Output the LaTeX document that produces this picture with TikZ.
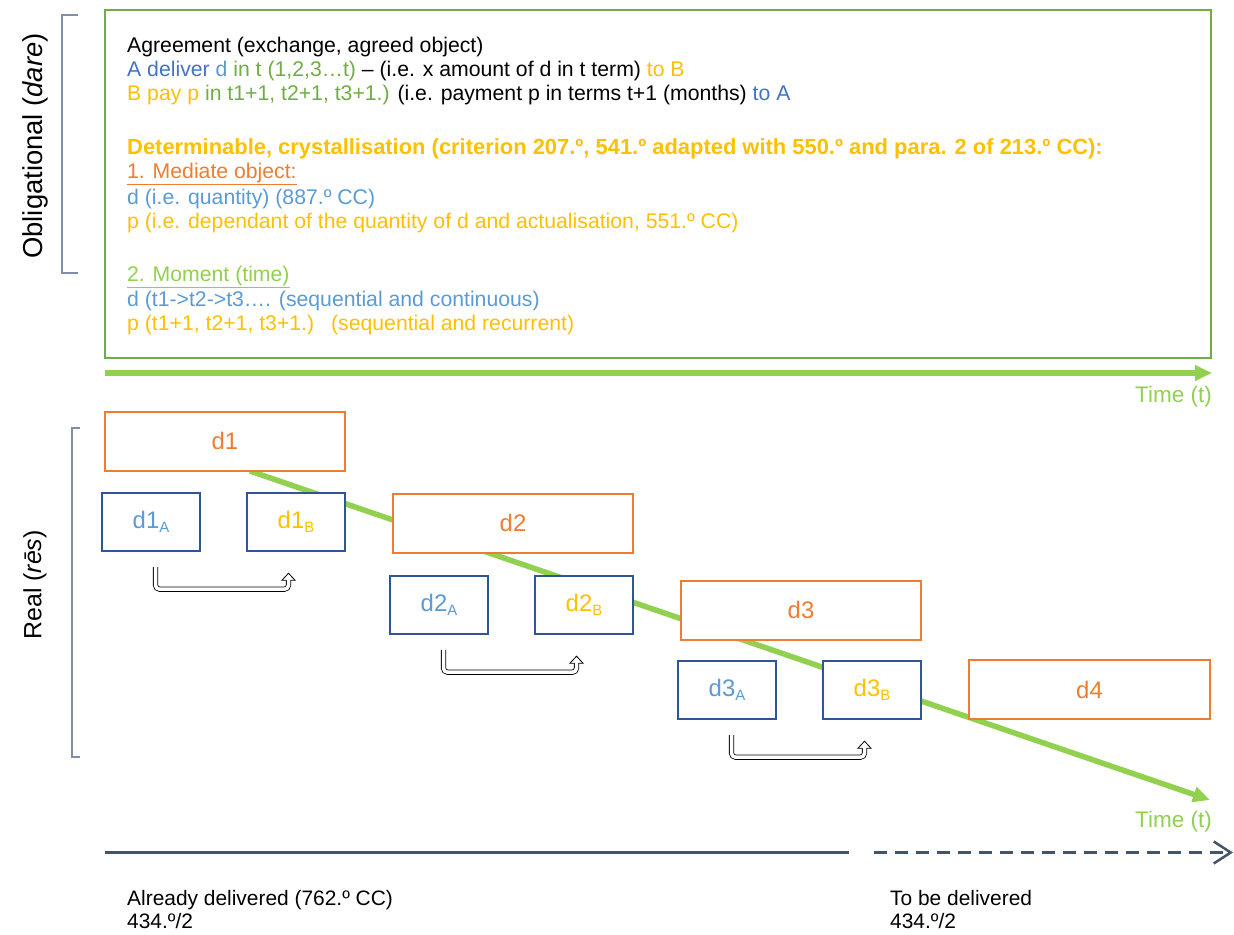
\documentclass[tikz,border=0pt]{standalone}
\usepackage{fontspec}
\setmainfont{Liberation Sans}
\usetikzlibrary{arrows.meta,calc}

\definecolor{boxgreen}{HTML}{70AD47}
\definecolor{timegreen}{HTML}{92D050}
\definecolor{partyblue}{HTML}{4472C4}
\definecolor{lightblue}{HTML}{5B9BD5}
\definecolor{gold}{HTML}{FFC000}
\definecolor{orng}{HTML}{ED7D31}
\definecolor{darkblue}{HTML}{2F5597}
\definecolor{slate}{HTML}{44546A}
\definecolor{brack}{HTML}{7F8FA9}

\newcommand{\fsz}[1]{\fontsize{#1}{#1}\selectfont}
\newcommand{\subl}[1]{\raisebox{-0.3ex}{\fsz{15}#1}}

\tikzset{
  txt/.style={anchor=base west, inner sep=0pt, font=\fsz{21.3}},
  period/.style={draw=orng, line width=2bp, fill=white, minimum width=240bp,
    minimum height=59bp, inner sep=0pt, font=\fsz{24}, text=orng},
  party/.style={draw=darkblue, line width=2.4bp, fill=white, minimum width=98bp,
    minimum height=58bp, inner sep=0pt, font=\fsz{24}},
  timeline/.style={draw=timegreen, line width=5.5bp,
    -{Triangle[length=17bp,width=15bp]}},
  timelabel/.style={anchor=base east, inner sep=0pt, font=\fsz{22.6}, text=timegreen},
  bracket/.style={draw=brack, line width=1.2bp},
  hollow/.style={double=white, double distance=3.5bp, line width=0.8bp,
    rounded corners=4bp},
  sidelabel/.style={rotate=90, font=\fsz{25}, inner sep=0pt},
  status/.style={anchor=base west, inner sep=0pt, font=\fsz{21}},
}

% hollow hand-over arrow from under one party box to under the other
\newcommand{\handover}[2]{%
  \draw[hollow] ([xshift=4.5bp,yshift=-15bp]#1.south)
     |- ([xshift=-7.5bp,yshift=-37bp]#2.south)
     -- ([xshift=-7.5bp,yshift=-28bp]#2.south);
  \fill[white] ([xshift=-14bp,yshift=-28bp]#2.south)
     -- ([xshift=-7.5bp,yshift=-21bp]#2.south)
     -- ([xshift=-1bp,yshift=-28bp]#2.south) -- cycle;
  \draw[line width=0.8bp, line join=miter]
        ([xshift=-9.65bp,yshift=-28bp]#2.south)
     -- ([xshift=-14bp,yshift=-28bp]#2.south)
     -- ([xshift=-7.5bp,yshift=-21bp]#2.south)
     -- ([xshift=-1bp,yshift=-28bp]#2.south)
     -- ([xshift=-5.35bp,yshift=-28bp]#2.south);
}

\begin{document}
\begin{tikzpicture}[x=1bp,y=-1bp]
\useasboundingbox[fill=white] (0,0) rectangle (1234,935);

% ---------- obligational part ----------
\node[draw=boxgreen, line width=2bp, minimum width=1106bp, minimum height=348bp,
      inner sep=0pt] (agreement) at (658,184) {};
\draw[bracket] (78,15) -- (62,15) -- (62,273) -- (78,273);
\node[sidelabel, font=\fsz{27.5}] (oblig) at (35,146) {Obligational (\textit{dare})};

\node[txt] (l1) at (127,52) {Agreement (exchange, agreed object)};
\node[txt] (l2) at (127,76) {\textcolor{partyblue}{A deliver} \textcolor{lightblue}{d}
  \textcolor{boxgreen}{in t (1,2,3…t)} – (i.e. x amount of d in t term) \textcolor{gold}{to B}};
\node[txt] (l3) at (127,100) {\textcolor{gold}{B pay p} \textcolor{boxgreen}{in t1+1, t2+1, t3+1.)}
  (i.e. payment p in terms t+1 (months) \textcolor{partyblue}{to A}};
\node[txt, text=gold, font=\fsz{22}\bfseries] (l4) at (127,154)
  {Determinable, crystallisation (criterion 207.º, 541.º adapted with 550.º and para. 2 of 213.º CC):};
\node[txt, text=orng] (l5) at (127,178) {\underline{1. Mediate object:}};
\node[txt, text=lightblue] (l6) at (127,204) {d (i.e. quantity) (887.º CC)};
\node[txt, text=gold] (l7) at (127,228) {p (i.e. dependant of the quantity of d and actualisation, 551.º CC)};
\node[txt, text=timegreen] (l8) at (127,281) {\underline{2. Moment (time)}};
\node[txt, text=lightblue] (l9) at (127,306) {d (t1->t2->t3…. (sequential and continuous)};
\node[txt, text=gold] (l10) at (127,330) {p (t1+1, t2+1, t3+1.)\hspace{17bp}(sequential and recurrent)};

\coordinate (ta) at (105,373);
\coordinate (tb) at (1212,373);
\draw[timeline] (ta) -- (tb);
\node[timelabel] (time1) at (1212,402) {Time (t)};

% ---------- real part ----------
\draw[bracket] (80,428) -- (72,428) -- (72,757) -- (80,757);
\node[sidelabel] (realis) at (35,585) {Real (\textit{rēs})};

\coordinate (da) at (250,471);
\coordinate (db) at (1210,800);
\draw[timeline] (da) -- (db);
\node[timelabel] (time2) at (1212,827) {Time (t)};

\node[period] (d1) at (225,441) {d1};
\node[period] (d2) at (513,523) {d2};
\node[period] (d3) at (801,610) {d3};
\node[period, minimum width=241bp] (d4) at (1089.5,689.5) {d4};

\node[party, text=lightblue] (d1A) at (151,522) {d1\subl{A}};
\node[party, text=gold]      (d1B) at (296,522) {d1\subl{B}};
\node[party, text=lightblue] (d2A) at (439,605) {d2\subl{A}};
\node[party, text=gold]      (d2B) at (584,605) {d2\subl{B}};
\node[party, text=lightblue] (d3A) at (727,690) {d3\subl{A}};
\node[party, text=gold]      (d3B) at (872,690) {d3\subl{B}};

\handover{d1A}{d1B}
\handover{d2A}{d2B}
\handover{d3A}{d3B}

% ---------- delivery status ----------
\coordinate (s0) at (105,852.5);
\coordinate (s1) at (849,852.5);
\coordinate (s2) at (874,852.5);
\coordinate (s3) at (1233,852.5);
\draw[slate, line width=2.5bp] (s0) -- (s1);
\draw[slate, line width=2.5bp, dash pattern=on 13bp off 8bp,
      -{Straight Barb[length=17bp,width=22bp,line width=2.5bp]}] (s2) -- (s3);

\node[status] (done1) at (127,905) {Already delivered (762.º CC)};
\node[status] (done2) at (127,928) {434.º/2};
\node[status] (todo1) at (890,905) {To be delivered};
\node[status] (todo2) at (890,928) {434.º/2};
\end{tikzpicture}
\end{document}
